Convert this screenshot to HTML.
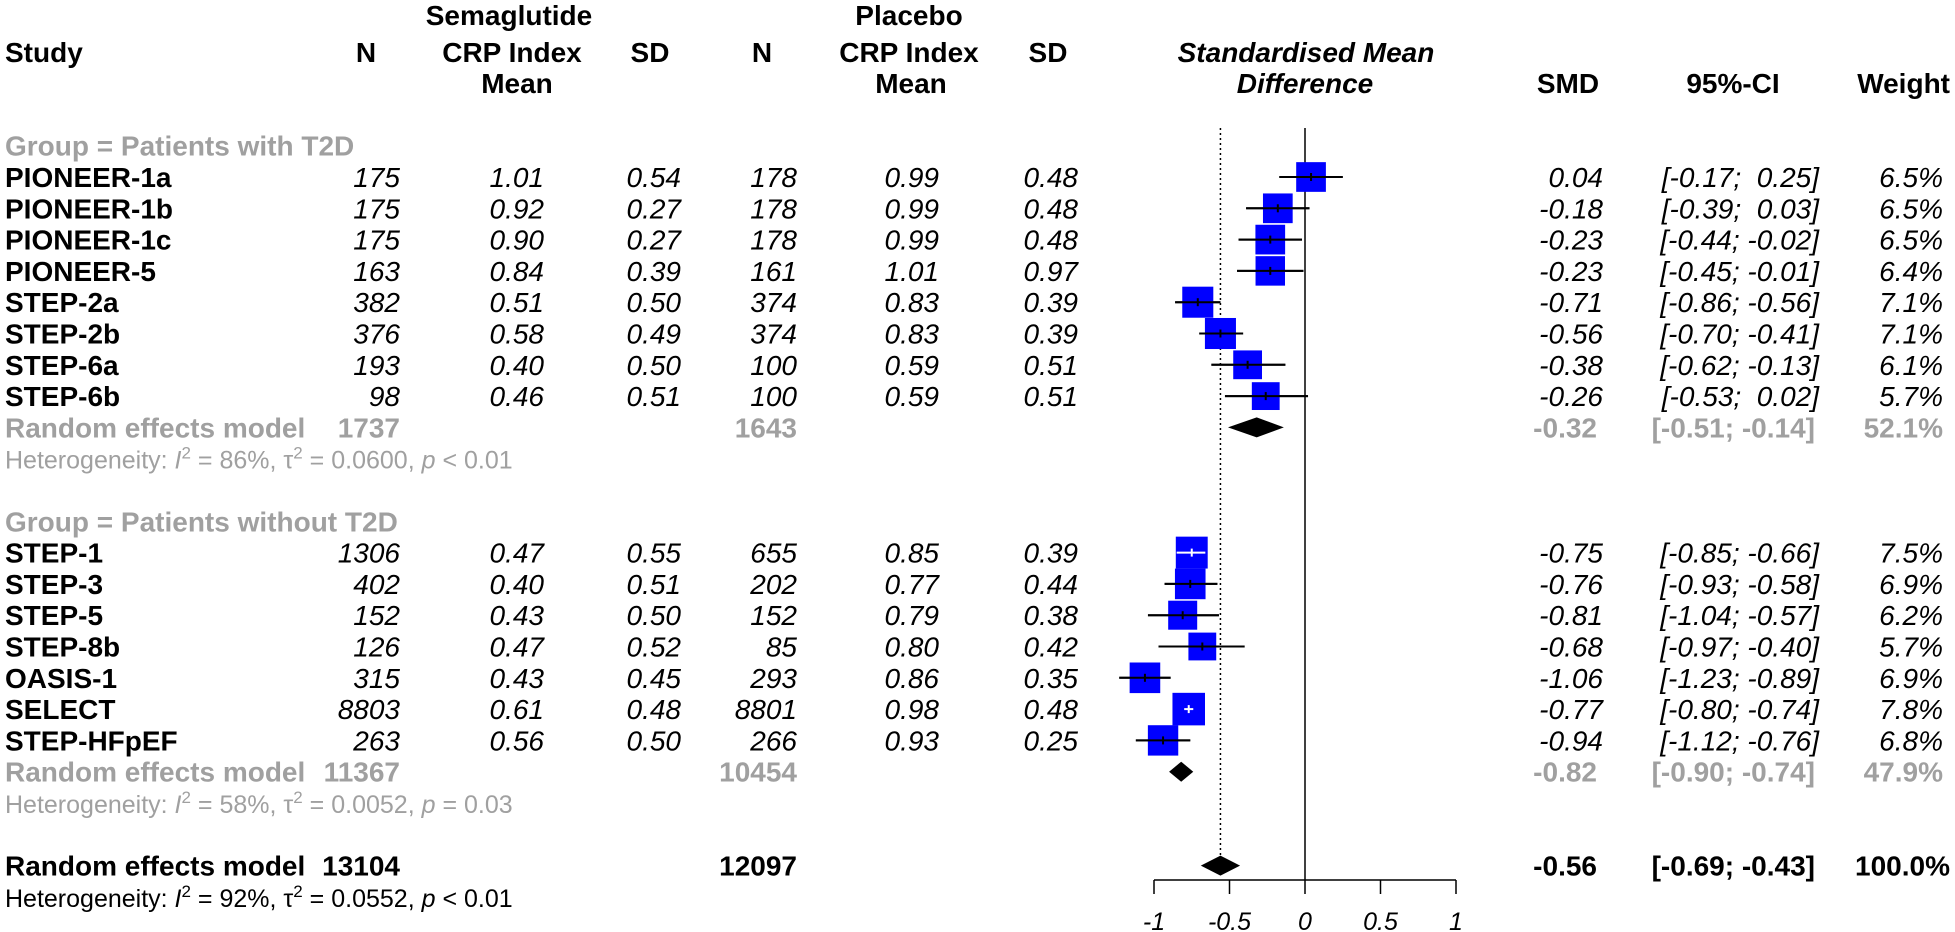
<!DOCTYPE html>
<html><head><meta charset="utf-8"><title>Forest plot</title>
<style>
html,body{margin:0;padding:0;background:#fff;}
svg{display:block;font-family:"Liberation Sans",Arial,sans-serif;}
text{white-space:pre;}
</style></head>
<body>
<svg id="chart" width="1955" height="932" viewBox="0 0 1955 932" xmlns="http://www.w3.org/2000/svg">
<g font-size="28" font-weight="bold" fill="#000">
<text x="509" y="25" text-anchor="middle">Semaglutide</text>
<text x="909" y="25" text-anchor="middle">Placebo</text>
<text x="5" y="62">Study</text>
<text x="366" y="62" text-anchor="middle">N</text>
<text x="512" y="62" text-anchor="middle">CRP Index</text>
<text x="517" y="93" text-anchor="middle">Mean</text>
<text x="650" y="62" text-anchor="middle">SD</text>
<text x="762" y="62" text-anchor="middle">N</text>
<text x="909" y="62" text-anchor="middle">CRP Index</text>
<text x="911" y="93" text-anchor="middle">Mean</text>
<text x="1048" y="62" text-anchor="middle">SD</text>
<text x="1306" y="62" text-anchor="middle" font-style="italic">Standardised Mean</text>
<text x="1305" y="93" text-anchor="middle" font-style="italic">Difference</text>
<text x="1568" y="93" text-anchor="middle">SMD</text>
<text x="1733" y="93" text-anchor="middle">95%-CI</text>
<text x="1950" y="93" text-anchor="end">Weight</text>
</g>
<g id="body"></g>
</svg>
<script>
const studies = ["PIONEER-1a","PIONEER-1b","PIONEER-1c","PIONEER-5","STEP-2a","STEP-2b","STEP-6a","STEP-6b","STEP-1","STEP-3","STEP-5","STEP-8b","OASIS-1","SELECT","STEP-HFpEF"];
const groupOf = [0,0,0,0,0,0,0,0,1,1,1,1,1,1,1];
const semaN = [175,175,175,163,382,376,193,98,1306,402,152,126,315,8803,263];
const semaMean = [1.01,0.92,0.90,0.84,0.51,0.58,0.40,0.46,0.47,0.40,0.43,0.47,0.43,0.61,0.56];
const semaSD = [0.54,0.27,0.27,0.39,0.50,0.49,0.50,0.51,0.55,0.51,0.50,0.52,0.45,0.48,0.50];
const placN = [178,178,178,161,374,374,100,100,655,202,152,85,293,8801,266];
const placMean = [0.99,0.99,0.99,1.01,0.83,0.83,0.59,0.59,0.85,0.77,0.79,0.80,0.86,0.98,0.93];
const placSD = [0.48,0.48,0.48,0.97,0.39,0.39,0.51,0.51,0.39,0.44,0.38,0.42,0.35,0.48,0.25];
const smd = [0.04,-0.18,-0.23,-0.23,-0.71,-0.56,-0.38,-0.26,-0.75,-0.76,-0.81,-0.68,-1.06,-0.77,-0.94];
const ciLo = [-0.17,-0.39,-0.44,-0.45,-0.86,-0.70,-0.62,-0.53,-0.85,-0.93,-1.04,-0.97,-1.23,-0.80,-1.12];
const ciHi = [0.25,0.03,-0.02,-0.01,-0.56,-0.41,-0.13,0.02,-0.66,-0.58,-0.57,-0.40,-0.89,-0.74,-0.76];
const weight = [6.5,6.5,6.5,6.4,7.1,7.1,6.1,5.7,7.5,6.9,6.2,5.7,6.9,7.8,6.8];
const groupNames = ["Group = Patients with T2D","Group = Patients without T2D"];
const groupSemaN = [1737,11367];
const groupPlacN = [1643,10454];
const groupSmd = [-0.32,-0.82];
const groupLo = [-0.51,-0.90];
const groupHi = [-0.14,-0.74];
const groupWeight = [52.1,47.9];
const groupI2 = [86,58];
const groupTau2 = ["0.0600","0.0052"];
const groupP = ["< 0.01","= 0.03"];
const overallSemaN = 13104, overallPlacN = 12097;
const overallSmd = -0.56, overallLo = -0.69, overallHi = -0.43, overallWeight = 100.0;
const overallI2 = 92, overallTau2 = "0.0552", overallP = "< 0.01";
const xTicks = [-1,-0.5,0,0.5,1];
const xTickLabels = ["-1","-0.5","0","0.5","1"];

const NS = "http://www.w3.org/2000/svg";
const body = document.getElementById("body");
const X0 = 1305, XU = 151;
const xs = v => X0 + v*XU;
const rowY = i => 177 + 31.3*i;
const GRAY = "#a0a0a0";
function el(tag, attrs, parent){const e=document.createElementNS(NS,tag);for(const k in attrs)e.setAttribute(k,attrs[k]);(parent||body).appendChild(e);return e;}
function txt(x,y,s,opt){const t=el("text",Object.assign({x:x,y:y+10,"font-size":28},opt||{}));t.textContent=s;return t;}
const f2 = v => v.toFixed(2);
const fci = v => (v>=0?" ":"")+v.toFixed(2);
const ciStr = (lo,hi) => "["+fci(lo)+"; "+fci(hi)+"]";

const zl = el("line",{x1:X0,x2:X0,y1:128,y2:880,stroke:"#000","stroke-width":1.5});


const dl = el("line",{x1:xs(overallSmd),x2:xs(overallSmd),y1:128,y2:866,stroke:"#000","stroke-width":1.5,"stroke-dasharray":"2,3"});



function heter(y,i2,tau,p,fill,name){
  const t=el("text",{x:5,y:y+10,"font-size":25,fill:fill});
  
  
  t.innerHTML='Heterogeneity: <tspan font-style="italic">I</tspan><tspan dy="-10" font-size="17">2</tspan><tspan dy="10"> = '+i2+'%, τ</tspan><tspan dy="-10" font-size="17">2</tspan><tspan dy="10"> = '+tau+', </tspan><tspan font-style="italic">p</tspan> '+p;
}
function diamond(y,est,lo,hi,name){
  const d=el("polygon",{points:[xs(lo)+","+y,xs(est)+","+(y-10),xs(hi)+","+y,xs(est)+","+(y+10)].join(" "),fill:"#000"});
  
  
}

[0,12].forEach((start,g)=>{
  const gh=txt(5,rowY(start-1),groupNames[g],{"font-weight":"bold",fill:GRAY});
  
  
  let r=start;
  for(let i=0;i<studies.length;i++){ if(groupOf[i]!==g) continue;
    const y=rowY(r);
    const row=el("g",{});
    
    
    const o={"font-style":"italic","text-anchor":"end"};
    row.appendChild(txt(5,y,studies[i],{"font-weight":"bold"}));
    row.appendChild(txt(400,y,String(semaN[i]),o));
    row.appendChild(txt(544,y,f2(semaMean[i]),o));
    row.appendChild(txt(681,y,f2(semaSD[i]),o));
    row.appendChild(txt(797,y,String(placN[i]),o));
    row.appendChild(txt(939,y,f2(placMean[i]),o));
    row.appendChild(txt(1078,y,f2(placSD[i]),o));
    row.appendChild(txt(1603,y,f2(smd[i]),o));
    row.appendChild(txt(1819,y,ciStr(ciLo[i],ciHi[i]),o));
    row.appendChild(txt(1943,y,weight[i].toFixed(1)+"%",o));
    const sz=11.65*Math.sqrt(weight[i]);
    const cx=xs(smd[i]);
    const wci=xs(ciHi[i])-xs(ciLo[i]);
    const col = wci<sz ? "#fff" : "#000";
    if(col==="#000") el("line",{x1:xs(ciLo[i]),x2:xs(ciHi[i]),y1:y,y2:y,stroke:"#000","stroke-width":2},row);
    const b=el("rect",{x:cx-sz/2,y:y-sz/2,width:sz,height:sz,fill:"#0000ff"},row);
    
    
    el("line",{x1:xs(ciLo[i]),x2:xs(ciHi[i]),y1:y,y2:y,stroke:col,"stroke-width":2},row);
    el("line",{x1:cx,x2:cx,y1:y-4,y2:y+4,stroke:col,"stroke-width":2},row);
    r++;
  }
  const y=rowY(r);
  const re=el("g",{fill:GRAY,"font-weight":"bold"});
  
  
  re.appendChild(txt(5,y,"Random effects model"));
  re.appendChild(txt(400,y,String(groupSemaN[g]),{"text-anchor":"end"}));
  re.appendChild(txt(797,y,String(groupPlacN[g]),{"text-anchor":"end"}));
  re.appendChild(txt(1597,y,f2(groupSmd[g]),{"text-anchor":"end"}));
  re.appendChild(txt(1815,y,ciStr(groupLo[g],groupHi[g]).replace("[ ","["),{"text-anchor":"end"}));
  re.appendChild(txt(1943,y,groupWeight[g].toFixed(1)+"%",{"text-anchor":"end"}));
  diamond(y,groupSmd[g],groupLo[g],groupHi[g],'group-diamond-'+g);
  heter(rowY(r+1),groupI2[g],groupTau2[g],groupP[g],GRAY,'group-heterogeneity-'+g);
});

const yo=rowY(22);
const ov=el("g",{"font-weight":"bold",fill:"#000"});


ov.appendChild(txt(5,yo,"Random effects model"));
ov.appendChild(txt(400,yo,String(overallSemaN),{"text-anchor":"end"}));
ov.appendChild(txt(797,yo,String(overallPlacN),{"text-anchor":"end"}));
ov.appendChild(txt(1597,yo,f2(overallSmd),{"text-anchor":"end"}));
ov.appendChild(txt(1815,yo,ciStr(overallLo,overallHi),{"text-anchor":"end"}));
ov.appendChild(txt(1950,yo,overallWeight.toFixed(1)+"%",{"text-anchor":"end"}));
diamond(yo,overallSmd,overallLo,overallHi,'overall-diamond');
heter(rowY(23),overallI2,overallTau2,overallP,"#000",'overall-heterogeneity');

const ax=el("g",{});


el("line",{x1:xs(xTicks[0]),x2:xs(xTicks[xTicks.length-1]),y1:880,y2:880,stroke:"#000","stroke-width":1.5},ax);
xTicks.forEach((v,k)=>{
  el("line",{x1:xs(v),x2:xs(v),y1:880,y2:894,stroke:"#000","stroke-width":1.5},ax);
  const t=el("text",{x:xs(v),y:930,"font-size":25,"font-style":"italic","text-anchor":"middle"},ax);
  t.textContent=xTickLabels[k];
  
  
});
</script>
</body></html>
